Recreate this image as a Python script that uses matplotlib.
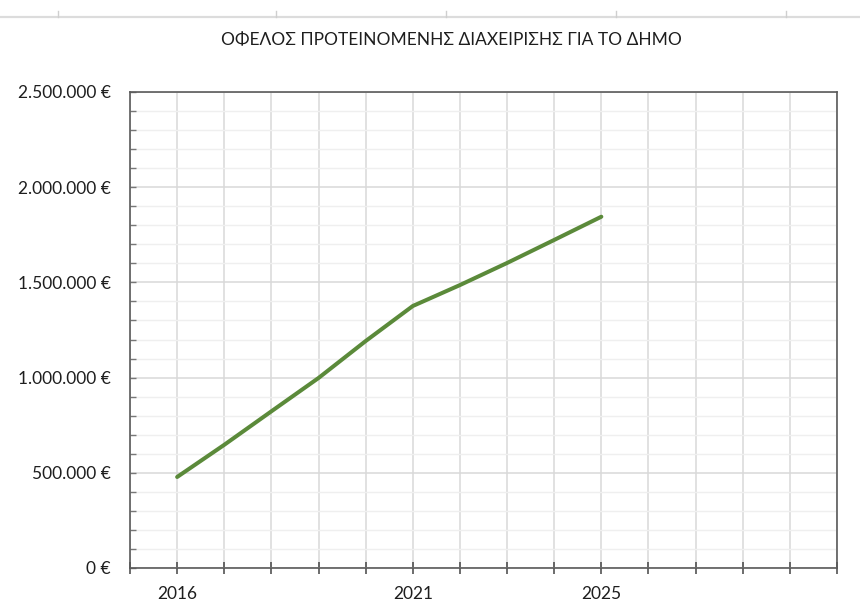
import matplotlib
matplotlib.use("Agg")
import matplotlib.pyplot as plt
from matplotlib.ticker import MultipleLocator, FuncFormatter
from matplotlib.lines import Line2D

# Data
years = [2016, 2017, 2018, 2019, 2020, 2021, 2022, 2023, 2024, 2025]
benefit = [478000, 647000, 823000, 998000, 1192000, 1376000, 1486000, 1602000, 1723000, 1845000]
labeled_years = [2016, 2021, 2025]
title = "ΟΦΕΛΟΣ ΠΡΟΤΕΙΝΟΜΕΝΗΣ ΔΙΑΧΕΙΡΙΣΗΣ ΓΙΑ ΤΟ ΔΗΜΟ"

plt.rcParams['font.family'] = ['Lato', 'Open Sans', 'DejaVu Sans']

fig = plt.figure(figsize=(8.6, 6.04), dpi=100)
ax = fig.add_axes([130/860, 36/604, (837-130)/860, (568-92)/604])

ax.plot(years, benefit, color="#5b8a3a", lw=2.9, solid_capstyle="round", zorder=3)

ax.set_xlim(2015, 2030)
ax.set_ylim(0, 2500000)

ax.xaxis.set_major_locator(MultipleLocator(1))
ax.xaxis.set_major_formatter(FuncFormatter(
    lambda v, p: str(int(round(v))) if int(round(v)) in labeled_years else ""))
ax.yaxis.set_major_locator(MultipleLocator(500000))
ax.yaxis.set_minor_locator(MultipleLocator(100000))
ax.yaxis.set_major_formatter(FuncFormatter(
    lambda v, p: "{:,.0f} €".format(v).replace(",", ".")))

ax.grid(True, which="major", axis="both", color="#d9d9d9", lw=1.1, zorder=0)
ax.grid(True, which="minor", axis="y", color="#efefef", lw=1.0, zorder=0)
ax.set_axisbelow(True)

for s in ax.spines.values():
    s.set_color("#5a5a5a")
    s.set_linewidth(1.2)

ax.tick_params(axis="x", which="major", direction="inout", length=8, width=1.1,
               color="#444444", pad=9, labelsize=12.5, labelcolor="#1e1e1e")
ax.tick_params(axis="y", which="both", direction="in", length=4, width=1.0,
               color="#777777", pad=14, labelsize=12.5, labelcolor="#1e1e1e")

fig.text(451/860, 1 - 40/604, title, ha="center", va="center",
         fontsize=12.5, color="#1e1e1e")

# Sheet header rule at the very top
fig.add_artist(Line2D([0, 1], [1 - 17/604, 1 - 17/604], color="#dcdcdc", lw=1.6,
                      transform=fig.transFigure))
for xp in [58, 276, 446, 616, 786]:
    fig.add_artist(Line2D([xp/860, xp/860], [1 - 11/604, 1 - 17/604], color="#cfcfcf",
                          lw=1.0, transform=fig.transFigure))

fig.savefig("out.png", dpi=100, facecolor="white")
